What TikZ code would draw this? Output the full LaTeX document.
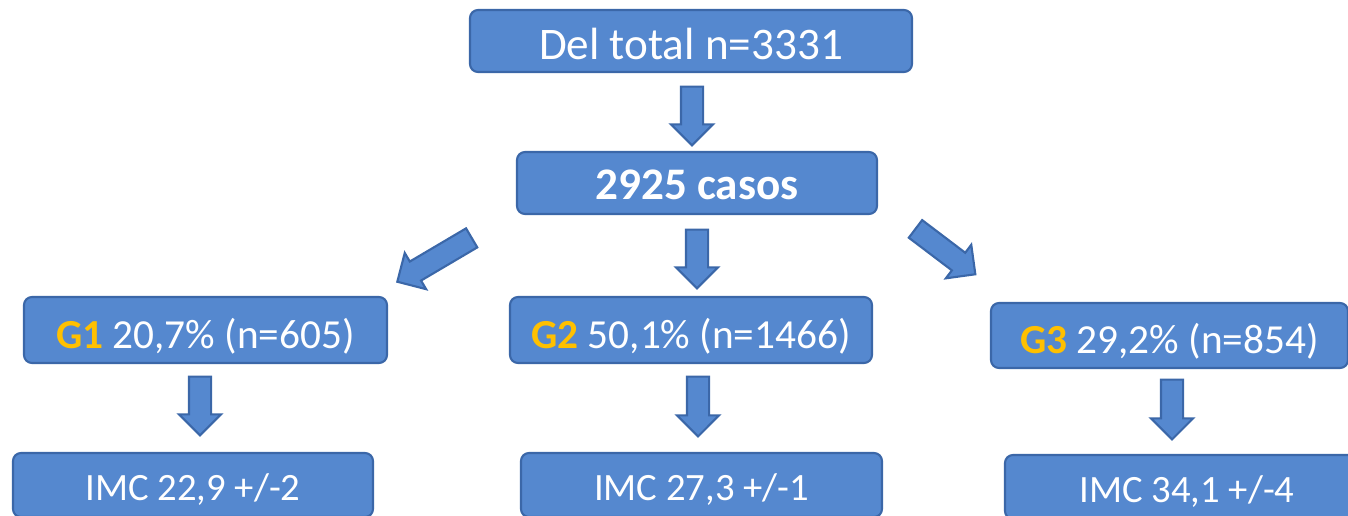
\documentclass[tikz,border=0pt]{standalone}
\usepackage{fontspec}
\setmainfont{Carlito}
\usetikzlibrary{calc,shapes.arrows}
\definecolor{boxblue}{RGB}{85,136,207}
\definecolor{edgeblue}{RGB}{59,103,168}
\definecolor{gold}{RGB}{255,192,0}
\newcommand{\grp}[2]{{\bfseries\color{gold}#1} #2}
\newcommand{\barr}[2]{\path let \p1=($(#2)-(#1)$), \n1={veclen(\x1,\y1)} in (#1) -- node[midway,sloped,allow upside down,barrow,minimum height=\n1]{} (#2);}

\begin{document}
\begin{tikzpicture}
    \tikzset{box/.style={draw=edgeblue,fill=boxblue,line width=1.2pt,rounded corners=0.16cm,text=white,inner sep=0pt,text depth=0pt},
      bigbox/.style={box,minimum height=1.24cm,font=\fontsize{25.7}{30}\selectfont},
      grpbox/.style={box,minimum height=1.32cm,text height=0.72cm,font=\fontsize{23.5}{27}\selectfont},
      imcbox/.style={box,minimum height=1.28cm,text height=0.6cm,font=\fontsize{22}{26}\selectfont},
      barrow/.style={single arrow,draw=edgeblue,fill=boxblue,line width=1.2pt,minimum width=0.8cm,single arrow head extend=0.2cm,inner xsep=0pt,inner ysep=0.2cm}}
  \useasboundingbox (0,0) rectangle (26.96,-10.3);
  \clip (0,0) rectangle (26.96,-10.3);
\node[bigbox,minimum width=8.84cm,text height=0.73cm] (total) at (13.82,-0.82) {Del total n=3331};
\node[bigbox,minimum width=7.2cm,text height=0.65cm,font=\fontsize{25.7}{30}\selectfont\bfseries] (casos) at (13.94,-3.66) {2925 casos};
\node[grpbox,minimum width=7.26cm] (g1) at (4.11,-6.6) {\grp{G1}{20,7\% (n=605)}};
\node[grpbox,minimum width=7.24cm] (g2) at (13.82,-6.6) {\grp{G2}{50,1\% (n=1466)}};
\node[grpbox,minimum width=7.14cm,minimum height=1.3cm] (g3) at (23.39,-6.71) {\grp{G3}{29,2\% (n=854)}};
\node[imcbox,minimum width=7.2cm] (imc1) at (3.86,-9.7) {IMC 22,9 +/-2};
\node[imcbox,minimum width=7.22cm] (imc2) at (14.03,-9.7) {IMC 27,3 +/-1};
\node[imcbox,minimum width=7.28cm] (imc3) at (23.74,-9.74) {IMC 34,1 +/-4};
% arrows
\coordinate (a0t) at ($(total.south)+(0.02,-0.16)$);
\coordinate (a0h) at ($(total.south |- casos.north)+(0.02,0.22)$);
\coordinate (l1t) at ($(casos.south west)+(-0.79,-0.4)$);
\coordinate (l1h) at ($(g1.north east)+(0.28,0.34)$);
\coordinate (m1t) at ($(casos.south)+(0,-0.18)$);
\coordinate (m1h) at ($(casos.south |- g2.north)+(0,0.26)$);
\coordinate (r1t) at ($(casos.south east)+(0.66,-0.21)$);
\coordinate (r1h) at ($(g3.north west)+(-0.38,0.62)$);
\coordinate (g1t) at ($(g1.south)+(-0.11,-0.14)$);
\coordinate (g1h) at ($(g1t |- imc1.north)+(0,0.44)$);
\coordinate (g2t) at ($(g2.south)+(0.14,-0.14)$);
\coordinate (g2h) at ($(g2t |- imc2.north)+(0,0.42)$);
\coordinate (g3t) at ($(g3.south)+(0.05,-0.1)$);
\coordinate (g3h) at ($(g3t |- imc3.north)+(0,0.4)$);
\barr{a0t}{a0h}
\barr{l1t}{l1h}
\barr{m1t}{m1h}
\barr{r1t}{r1h}
\barr{g1t}{g1h}
\barr{g2t}{g2h}
\barr{g3t}{g3h}
\end{tikzpicture}
\end{document}
